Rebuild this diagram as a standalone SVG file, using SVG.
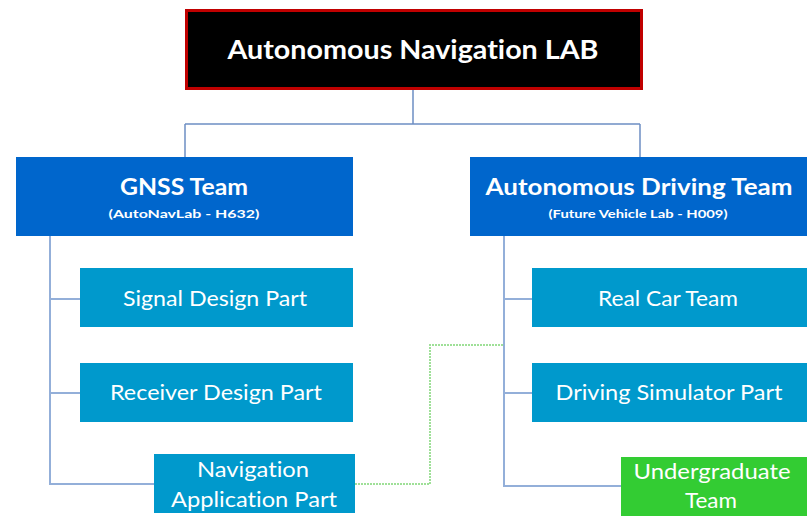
<svg xmlns="http://www.w3.org/2000/svg" width="811" height="528" viewBox="0 0 811 528">
<style>
.t{font-family:Lato,"Open Sans","Liberation Sans",sans-serif;fill:#fff;text-anchor:middle;font-variant-ligatures:none}
.h{font-weight:700}
.team{fill:#0066CC}
.part{fill:#0099CC}
.ln{fill:none;stroke:#6d8fc4;stroke-width:1.5}
.ln2{fill:none;stroke:#93afd9;stroke-width:2}
.gr{fill:none;stroke:#9fe098;stroke-width:2;stroke-dasharray:2 1}
</style>
<rect width="811" height="528" fill="#fff"/>
<g id="connectors">
<path class="ln" d="M413 89V124M185 124H640M185 124V157M640 124V157"/>
<path class="ln2" d="M50 236V484H155M50 299H80M50 393H80"/>
<path class="ln2" d="M504 236V486H621M504 299H532M504 393H532"/>
<path class="gr" d="M355 484H430V345H504"/>
</g>
<g id="lab">
<rect x="186.5" y="10.5" width="455" height="78" fill="#000" stroke="#C00000" stroke-width="3"/>
<text class="t h" x="413" y="59" font-size="26" textLength="371" lengthAdjust="spacingAndGlyphs">Autonomous Navigation LAB</text>
</g>
<g id="gnss">
<rect class="team" x="16" y="157" width="337" height="79"/>
<text class="t h" x="184" y="195" font-size="23" textLength="128" lengthAdjust="spacingAndGlyphs">GNSS Team</text>
<text class="t h" x="184" y="218" font-size="12" textLength="151" lengthAdjust="spacingAndGlyphs">(AutoNavLab - H632)</text>
</g>
<g id="adt">
<rect class="team" x="470" y="157" width="337" height="79"/>
<text class="t h" x="639" y="195" font-size="23" textLength="307" lengthAdjust="spacingAndGlyphs">Autonomous  Driving Team</text>
<text class="t h" x="638" y="218" font-size="12" textLength="179" lengthAdjust="spacingAndGlyphs">(Future Vehicle Lab - H009)</text>
</g>
<g id="signal">
<rect class="part" x="80" y="268" width="273" height="59"/>
<text class="t" x="215" y="306" font-size="21" textLength="184" lengthAdjust="spacingAndGlyphs">Signal Design Part</text>
</g>
<g id="receiver">
<rect class="part" x="80" y="363" width="273" height="59"/>
<text class="t" x="216" y="400" font-size="21" textLength="212" lengthAdjust="spacingAndGlyphs">Receiver Design Part</text>
</g>
<g id="navigation">
<rect class="part" x="154" y="454" width="201" height="59"/>
<text class="t" x="253" y="477" font-size="21" textLength="112" lengthAdjust="spacingAndGlyphs">Navigation</text>
<text class="t" x="254" y="507" font-size="21" textLength="166" lengthAdjust="spacingAndGlyphs">Application Part</text>
</g>
<g id="realcar">
<rect class="part" x="532" y="268" width="275" height="59"/>
<text class="t" x="668" y="306" font-size="21" textLength="140" lengthAdjust="spacingAndGlyphs">Real Car Team</text>
</g>
<g id="drivingsim">
<rect class="part" x="532" y="363" width="275" height="59"/>
<text class="t" x="669" y="400" font-size="21" textLength="227" lengthAdjust="spacingAndGlyphs">Driving Simulator Part</text>
</g>
<g id="undergrad">
<rect x="621" y="457" width="186" height="59" fill="#33CC33"/>
<text class="t" x="712" y="479" font-size="21" textLength="157" lengthAdjust="spacingAndGlyphs">Undergraduate</text>
<text class="t" x="711" y="508" font-size="21" textLength="52" lengthAdjust="spacingAndGlyphs">Team</text>
</g>
</svg>
